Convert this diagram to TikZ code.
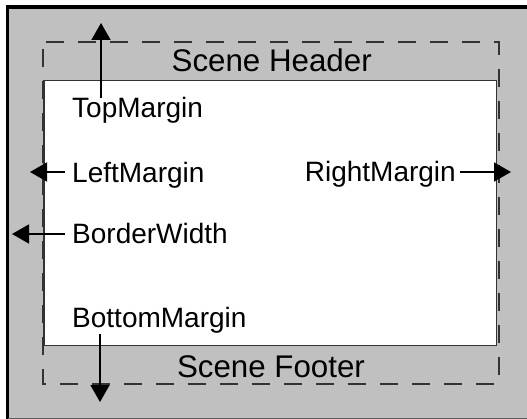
\documentclass[tikz,border=0pt]{standalone}
\usepackage{fontspec}
\setmainfont{Liberation Sans}
\usetikzlibrary{arrows.meta}
\definecolor{panelgray}{HTML}{C0C0C0}
\definecolor{linegray}{HTML}{333333}
\tikzset{
  lbl/.style={inner sep=0pt, font=\fontsize{28}{32}\selectfont, text=black},
  hdr/.style={inner sep=0pt, font=\fontsize{31.3}{36}\selectfont, text=black},
  arr/.style={line width=1.5pt, black, -{Triangle[length=17pt,width=19pt]}},
  dashrect/.style={line width=1.8pt, linegray, dash pattern=on 18pt off 14pt, dash phase=25pt},
  areabox/.style={fill=white, draw=linegray, line width=1.5pt}
}
\begin{document}
\begin{tikzpicture}[x=1pt,y=-1pt]
\useasboundingbox (0,0) rectangle (527,419);
% background
\fill[white] (0,0) rectangle (527,419);
\fill[panelgray] (7.5,7) rectangle (527,419);
\draw[line width=3.5pt, black] (7.5,419) -- (7.5,7) -- (527,7);
\draw[line width=2pt, linegray!80] (7.5,418.5) -- (527,418.5);
% white scene area
\path[areabox] (44,80.5) rectangle (496.5,345.5);
% dashed border
\draw[dashrect] (43,42) rectangle (499,384);
% texts
\node[hdr, anchor=base] (hdr) at (271.7,71.7) {Scene Header};
\node[hdr, anchor=base] (ftr) at (271,377) {Scene Footer};
\node[lbl, anchor=base west] (tm) at (72,118) {TopMargin};
\node[lbl, anchor=base west] (lm) at (72,183) {LeftMargin};
\node[lbl, anchor=base west] (bw) at (72,244) {BorderWidth};
\node[lbl, anchor=base west] (bm) at (72,327.5) {BottomMargin};
\node[lbl, anchor=base east] (rm) at (456,182) {RightMargin};
% arrow tips
\coordinate (tmtip) at (101,23);
\coordinate (lmtip) at (30,172);
\coordinate (bwtip) at (12,234);
\coordinate (bmtip) at (100,402);
\coordinate (rmtip) at (511,172);
% arrows
\draw[arr] ([xshift=29pt]tm.north west) -- (tmtip);
\draw[arr] ([xshift=-7pt,yshift=11pt]lm.base west) -- (lmtip);
\draw[arr] ([xshift=-7pt,yshift=10pt]bw.base west) -- (bwtip);
\draw[arr] ([xshift=28pt]bm.south west) -- (bmtip);
\draw[arr] ([xshift=4pt,yshift=10pt]rm.base east) -- (rmtip);
\end{tikzpicture}
\end{document}
